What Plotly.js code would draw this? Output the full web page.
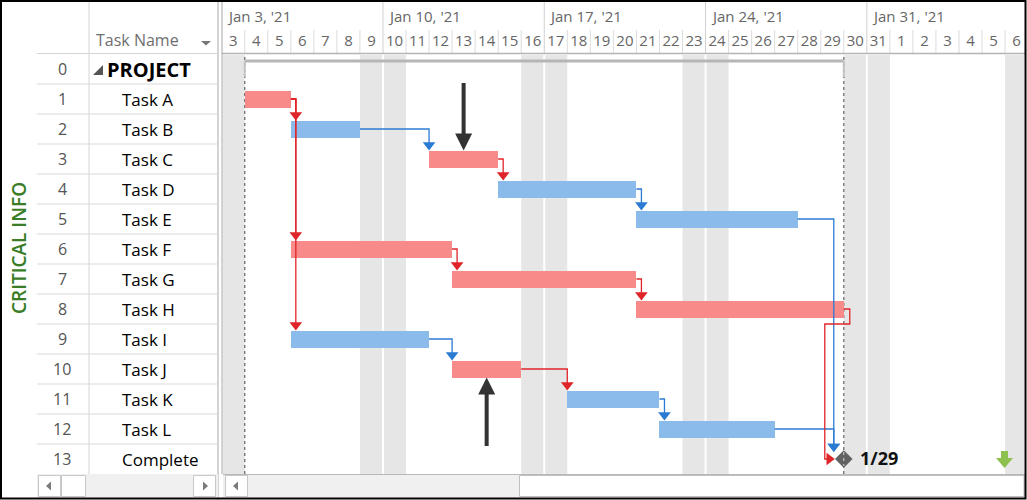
<!DOCTYPE html>
<html>
<head>
<meta charset="utf-8">
<script src="https://cdn.plot.ly/plotly-3.0.1.min.js"></script>
<style>html,body{margin:0;padding:0;background:#fff;}#chart{width:1027px;height:500px;}</style>
</head>
<body>
<div id="chart"></div>
<script>
// ---------------- data ----------------
const taskIds = [0,1,2,3,4,5,6,7,8,9,10,11,12,13];
const taskNames = ['PROJECT','Task A','Task B','Task C','Task D','Task E','Task F','Task G','Task H','Task I','Task J','Task K','Task L','Complete'];
const taskStart = ['2021-01-04','2021-01-04','2021-01-06','2021-01-12','2021-01-15','2021-01-21','2021-01-06','2021-01-13','2021-01-21','2021-01-06','2021-01-13','2021-01-18','2021-01-22','2021-01-29'];
const taskFinish = ['2021-01-29','2021-01-05','2021-01-08','2021-01-14','2021-01-20','2021-01-27','2021-01-12','2021-01-20','2021-01-29','2021-01-11','2021-01-15','2021-01-21','2021-01-26','2021-01-29'];
const taskKind = ['summary','task','task','task','task','task','task','task','task','task','task','task','task','milestone'];
const taskCritical = [false,true,false,true,false,false,true,true,true,false,true,false,false,false];
const taskPredecessors = [[],[],[1],[2],[3],[4],[1],[6],[7],[1],[9],[10],[11],[5,8,12]];
const timelineStart = '2021-01-03';
const weekStarts = ['2021-01-03','2021-01-10','2021-01-17','2021-01-24','2021-01-31'];
const weekLabels = ["Jan 3, '21","Jan 10, '21","Jan 17, '21","Jan 24, '21","Jan 31, '21"];
const dayLabels = ['3','4','5','6','7','8','9','10','11','12','13','14','15','16','17','18','19','20','21','22','23','24','25','26','27','28','29','30','31','1','2','3','4','5','6'];
const calloutTasks = [3, 10];
const calloutSides = ['above', 'below'];
const sideLabel = 'CRITICAL INFO';
const columnHeader = 'Task Name';

// ---------------- helpers ----------------
const DAY = 86400000;
const W = 1027, H = 500;
const PX0 = 221.7, PPD = 23.04, ROWPX = 30;
const GX0 = 222, GX1 = 1024, GY0 = 55, GY1 = 474;
const px = x => x / W;
const py = y => 1 - y / H;
const toMs = s => Date.parse(s + 'T00:00:00Z');
const iso = t => new Date(t).toISOString().slice(0, 19).replace('T', ' ');
const pxMs = p => p / PPD * DAY;
const pxRow = p => p / ROWPX;
const T0 = toMs(timelineStart);
const startMs = i => toMs(taskStart[i]);
const endMs = i => toMs(taskFinish[i]) + DAY;

const FONT = 'Open Sans, Noto Sans, sans-serif';
const RED_BAR = '#F88A8A', BLUE_BAR = '#8BBBEB';
const RED_LINK = '#DF2529', BLUE_LINK = '#2C7BD3';
const ARROW_SIZE = 11;
const BAR_H = 17;

const shapes = [];
const annotations = [];
function pLine(x0, y0, x1, y1, color, width, dash) {
  shapes.push({type: 'line', xref: 'paper', yref: 'paper', x0: px(x0), y0: py(y0), x1: px(x1), y1: py(y1),
    line: {color: color, width: width || 1, dash: dash || 'solid'}, layer: 'above'});
}
function pRect(x0, y0, x1, y1, fill, lineColor) {
  shapes.push({type: 'rect', xref: 'paper', yref: 'paper', x0: px(x0), y0: py(y0), x1: px(x1), y1: py(y1),
    fillcolor: fill, line: {color: lineColor || 'rgba(0,0,0,0)', width: lineColor ? 1 : 0}, layer: 'above'});
}
function pPath(pts, fill) {
  const d = 'M' + pts.map(p => px(p[0]) + ',' + py(p[1])).join('L') + 'Z';
  shapes.push({type: 'path', xref: 'paper', yref: 'paper', path: d, fillcolor: fill, line: {width: 0}, layer: 'above'});
}

// ---------------- calendar background ----------------
const nDays = dayLabels.length;
for (let d = 0; d < nDays; d++) {
  const t = T0 + d * DAY;
  const wd = new Date(t).getUTCDay();
  if (wd === 0 || wd === 6) {
    shapes.push({type: 'rect', xref: 'x', yref: 'paper', x0: iso(t), x1: iso(t + DAY), y0: py(GY1), y1: py(GY0),
      fillcolor: '#E6E6E6', line: {width: 0}, layer: 'below'});
  }
  if (wd === 0) {
    shapes.push({type: 'line', xref: 'x', yref: 'paper', x0: iso(t), x1: iso(t), y0: py(GY1), y1: py(GY0),
      line: {color: '#FFFFFF', width: 2}, layer: 'below'});
    shapes.push({type: 'line', xref: 'x', yref: 'paper', x0: iso(t), x1: iso(t), y0: py(53), y1: py(1),
      line: {color: '#D0D0D0', width: 1}, layer: 'above'});
  } else {
    shapes.push({type: 'line', xref: 'x', yref: 'paper', x0: iso(t), x1: iso(t), y0: py(53), y1: py(30),
      line: {color: '#DCDCDC', width: 1}, layer: 'above'});
  }
}
// header bottom line
pLine(GX0, 53.5, 1025, 53.5, '#B4B4B4', 1.5);

// project start / finish dotted lines
const projStart = startMs(0), projEnd = endMs(0);
[projStart, projEnd].forEach(t => {
  shapes.push({type: 'line', xref: 'x', yref: 'paper', x0: iso(t), x1: iso(t), y0: py(GY1), y1: py(GY0),
    line: {color: '#6E6E6E', width: 1.3, dash: 'dot'}, layer: 'below'});
});
// summary outline
const sumY = -pxRow(8);
shapes.push({type: 'line', xref: 'x', yref: 'y', x0: iso(projStart), x1: iso(projEnd), y0: sumY, y1: sumY,
  line: {color: '#B6B6B6', width: 3}, layer: 'below'});
[projStart, projEnd].forEach(t => {
  shapes.push({type: 'line', xref: 'x', yref: 'y', x0: iso(t), x1: iso(t), y0: sumY, y1: pxRow(8),
    line: {color: '#C4C4C4', width: 2}, layer: 'below'});
});

// ---------------- bars ----------------
const barIdx = taskIds.filter(i => taskKind[i] === 'task');
const barTrace = {
  type: 'bar', orientation: 'h',
  y: barIdx, base: barIdx.map(i => iso(startMs(i))),
  x: barIdx.map(i => endMs(i) - startMs(i)),
  width: BAR_H / ROWPX,
  marker: {color: barIdx.map(i => taskCritical[i] ? RED_BAR : BLUE_BAR), line: {width: 0}},
  hoverinfo: 'skip', showlegend: false
};

// ---------------- links ----------------
const lines = {red: {x: [], y: []}, blue: {x: [], y: []}};
const arrowsDown = {x: [], y: [], c: []};
const arrowsRight = {x: [], y: [], c: []};
const half = ARROW_SIZE / 2;
taskIds.forEach(s => {
  taskPredecessors[s].forEach(p => {
    const key = taskCritical[p] ? 'red' : 'blue';
    const col = taskCritical[p] ? RED_LINK : BLUE_LINK;
    const L = lines[key];
    const pe = endMs(p), pr = p;
    if (taskKind[s] === 'milestone') {
      const mx = endMs(s);
      if (pe < mx - pxMs(12)) {
        const xt = mx - pxMs(10);
        const tip = s - pxRow(7);
        L.x.push(iso(pe), iso(xt), iso(xt), null);
        L.y.push(pr, pr, tip - pxRow(half), null);
        arrowsDown.x.push(iso(xt)); arrowsDown.y.push(tip - pxRow(half)); arrowsDown.c.push(col);
      } else {
        const x1 = pe + pxMs(6), ym = pr + 0.5, x2 = mx - pxMs(19);
        const tipX = mx - pxMs(9);
        L.x.push(iso(pe), iso(x1), iso(x1), iso(x2), iso(x2), iso(tipX - pxMs(half)), null);
        L.y.push(pr, pr, ym, ym, s, s, null);
        arrowsRight.x.push(iso(tipX - pxMs(half))); arrowsRight.y.push(s); arrowsRight.c.push(col);
      }
    } else {
      const xt = Math.max(pe + pxMs(5), startMs(s));
      const tip = s - pxRow(BAR_H / 2);
      L.x.push(iso(pe), iso(xt), iso(xt), null);
      L.y.push(pr, pr, tip - pxRow(half), null);
      arrowsDown.x.push(iso(xt)); arrowsDown.y.push(tip - pxRow(half)); arrowsDown.c.push(col);
    }
  });
});
const linkTraces = [
  {type: 'scatter', mode: 'lines', x: lines.blue.x, y: lines.blue.y, line: {color: BLUE_LINK, width: 1.3}, hoverinfo: 'skip', showlegend: false, connectgaps: false},
  {type: 'scatter', mode: 'lines', x: lines.red.x, y: lines.red.y, line: {color: RED_LINK, width: 1.3}, hoverinfo: 'skip', showlegend: false, connectgaps: false},
  {type: 'scatter', mode: 'markers', x: arrowsDown.x, y: arrowsDown.y, marker: {symbol: 'triangle-down', size: ARROW_SIZE, color: arrowsDown.c, line: {width: 0}}, hoverinfo: 'skip', showlegend: false},
  {type: 'scatter', mode: 'markers', x: arrowsRight.x, y: arrowsRight.y, marker: {symbol: 'triangle-right', size: ARROW_SIZE, color: arrowsRight.c, line: {width: 0}}, hoverinfo: 'skip', showlegend: false}
];

// ---------------- milestone ----------------
const msIdx = taskIds.filter(i => taskKind[i] === 'milestone');
const msTrace = {type: 'scatter', mode: 'markers', x: msIdx.map(i => iso(endMs(i))), y: msIdx,
  marker: {symbol: 'diamond', size: 13.5, color: '#626262', line: {width: 0}}, hoverinfo: 'skip', showlegend: false};
msIdx.forEach(i => {
  const dt = new Date(toMs(taskFinish[i]));
  annotations.push({xref: 'x', yref: 'y', x: iso(endMs(i)), y: i, xanchor: 'left', yanchor: 'middle', xshift: 14, yshift: 1,
    text: '<b>' + (dt.getUTCMonth() + 1) + '/' + dt.getUTCDate() + '</b>', showarrow: false,
    font: {family: FONT, size: 18, color: '#111'}});
});
// dotted finish line over the diamond
shapes.push({type: 'line', xref: 'x', yref: 'y', x0: iso(projEnd), x1: iso(projEnd), y0: 13 - pxRow(7), y1: 13 + pxRow(7),
  line: {color: '#D8D8D8', width: 1, dash: 'dot'}, layer: 'above'});

// ---------------- callout arrows ----------------
calloutTasks.forEach((t, k) => {
  const mid = (startMs(t) + endMs(t)) / 2;
  const above = calloutSides[k] === 'above';
  annotations.push({xref: 'x', yref: 'y', x: iso(mid), y: above ? t - pxRow(BAR_H / 2) : t + pxRow(BAR_H / 2),
    ax: 0, ay: above ? -69 : 70, text: '', showarrow: true, arrowhead: 2, arrowsize: 0.85, arrowwidth: 4,
    arrowcolor: '#333333', standoff: 0});
});

// ---------------- week labels ----------------
weekStarts.forEach((w, k) => {
  annotations.push({xref: 'x', yref: 'paper', x: iso(toMs(w) + pxMs(3)), y: py(16), xanchor: 'left', yanchor: 'middle',
    text: weekLabels[k], showarrow: false, font: {family: FONT, size: 15, color: '#666'}});
});

// ---------------- table ----------------
pLine(218, 0, 218, 500, '#A8A8A8', 1);
pLine(222, 0, 222, 474, '#A8A8A8', 1);
pLine(89, 0, 89, 474, '#D4D4D4', 1);
pLine(37, 53.5, 218, 53.5, '#D4D4D4', 1);
taskIds.forEach(i => {
  if (i < taskIds.length - 1) {
    shapes.push({type: 'line', xref: 'paper', yref: 'y', x0: px(37), x1: px(218), y0: i + 0.5, y1: i + 0.5,
      line: {color: '#D9D9D9', width: 1}, layer: 'above'});
  }
  annotations.push({xref: 'paper', yref: 'y', x: px(62), y: i, xanchor: 'center', yanchor: 'middle', showarrow: false,
    text: String(taskIds[i]), font: {family: FONT, size: 16, color: '#555'}});
  const isSum = taskKind[i] === 'summary';
  annotations.push({xref: 'paper', yref: 'y', x: px(isSum ? 105 : 120), y: i, xanchor: 'left', yanchor: 'middle', showarrow: false,
    text: isSum ? '<b>' + taskNames[i] + '</b>' : taskNames[i],
    font: {family: FONT, size: isSum ? 20 : 17, color: '#000'}});
  if (isSum) pPath([[93, 75], [103, 75], [103, 65]], '#555');
});
annotations.push({xref: 'paper', yref: 'paper', x: px(94), y: py(40), xanchor: 'left', yanchor: 'middle', showarrow: false,
  text: columnHeader, font: {family: FONT, size: 16, color: '#6E6E6E'}});
pPath([[201, 41], [211, 41], [206, 45.5]], '#777');
annotations.push({xref: 'paper', yref: 'paper', x: px(19), y: py(248), xanchor: 'center', yanchor: 'middle', showarrow: false,
  textangle: -90, text: sideLabel, font: {family: FONT, size: 19, color: '#3A7D26', weight: 600}});

// ---------------- green indicator ----------------
pPath([[1001, 451], [1008, 451], [1008, 458], [1013, 458], [1004.5, 468], [996, 458], [1001, 458]], '#8DC04F');

// ---------------- scrollbars ----------------
pRect(37, 474, 218, 498, '#F0F0F0');
pRect(38.5, 475.5, 60.5, 496.5, '#FFFFFF', '#C8C8C8');
pRect(61.5, 475.5, 85.5, 496.5, '#FFFFFF', '#C8C8C8');
pRect(193.5, 475.5, 215.5, 496.5, '#FFFFFF', '#C8C8C8');
pPath([[46, 486], [51, 481.5], [51, 490.5]], '#7A7A7A');
pPath([[208, 486], [203, 481.5], [203, 490.5]], '#7A7A7A');
pRect(223, 474, 1025, 498, '#F0F0F0');
pLine(223, 474.5, 1025, 474.5, '#B8B8B8', 1);
pRect(225.5, 475.5, 247.5, 496.5, '#FFFFFF', '#C8C8C8');
pPath([[233, 486], [238, 481.5], [238, 490.5]], '#7A7A7A');
pRect(519.5, 475.5, 1024, 496.5, '#FFFFFF', '#C0C0C0');

// outer frame
pRect(1, 1, 1025.5, 498.5, 'rgba(0,0,0,0)', '#000');
shapes[shapes.length - 1].line.width = 2;

// ---------------- layout ----------------
const tickvals = dayLabels.map((_, d) => iso(T0 + d * DAY + DAY / 2));
const layout = {
  width: W, height: H,
  margin: {l: 0, r: 0, t: 0, b: 0},
  paper_bgcolor: '#FFFFFF', plot_bgcolor: 'rgba(0,0,0,0)',
  showlegend: false,
  xaxis: {type: 'date', domain: [px(GX0), px(GX1)],
    range: [iso(T0 + pxMs(GX0 - PX0)), iso(T0 + pxMs(GX1 - PX0))],
    side: 'top', anchor: 'y', tickmode: 'array', tickvals: tickvals, ticktext: dayLabels,
    ticks: '', ticklabelstandoff: 5, showgrid: false, zeroline: false, showline: false, fixedrange: true,
    tickfont: {family: FONT, size: 15, color: '#666'}},
  yaxis: {domain: [py(GY1), py(GY0)], range: [pxRow(GY1 - 69), pxRow(GY0 - 69)], visible: false, fixedrange: true},
  bargap: 0,
  shapes: shapes,
  annotations: annotations
};

Plotly.newPlot('chart', [barTrace].concat(linkTraces).concat([msTrace]), layout, {staticPlot: true, displayModeBar: false});
</script>
</body>
</html>
